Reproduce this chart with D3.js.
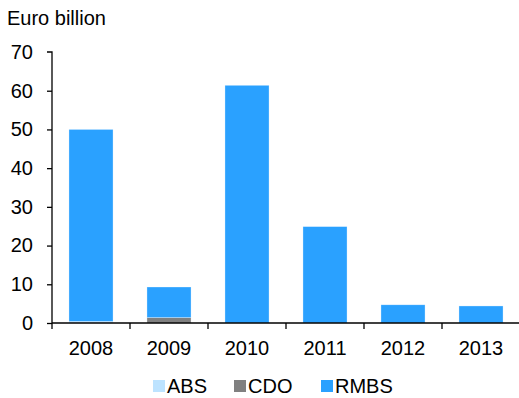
<!DOCTYPE html>
<html>
<head>
<meta charset="utf-8">
<script src="https://cdn.jsdelivr.net/npm/d3@7"></script>
<style>
  html, body { margin: 0; padding: 0; background: #fff; }
  svg { display: block; font-family: "Liberation Sans", Arial, sans-serif; }
</style>
</head>
<body>
<svg id="chart" width="519" height="398"></svg>
<script>
// Issuance by asset class, euro billion
const years = ["2008", "2009", "2010", "2011", "2012", "2013"];
const abs  = [0.4, 0.0, 0.0, 0.0, 0.0, 0.0];
const cdo  = [0.0, 1.4, 0.0, 0.0, 0.0, 0.0];
const rmbs = [49.6, 7.9, 61.4, 24.9, 4.7, 4.4];
const seriesNames = ["ABS", "CDO", "RMBS"];
const seriesColors = ["#bde3ff", "#808080", "#2aa1ff"];
const yTicks = [0, 10, 20, 30, 40, 50, 60, 70];

const svg = d3.select("#chart");
const margin = { left: 52, top: 52 };
const FS = 20;

const x = d3.scaleBand().domain(years).range([margin.left, 520]).paddingInner(0.435).paddingOuter(0.2175);
const xTickScale = d3.scaleBand().domain(years).range([margin.left, 520]);
const y = d3.scaleLinear().domain([0, 70]).range([323, margin.top]);

const rows = years.map((yr, i) => ({ year: yr, ABS: abs[i], CDO: cdo[i], RMBS: rmbs[i] }));
const stacked = d3.stack().keys(seriesNames)(rows);

// bars
svg.append("g").selectAll("g")
  .data(stacked)
  .join("g")
  .attr("fill", (d, i) => seriesColors[i])
  .selectAll("rect")
  .data(d => d.filter(p => p[1] - p[0] > 0))
  .join("rect")
  .attr("x", d => x(d.data.year))
  .attr("width", x.bandwidth())
  .attr("y", d => y(d[1]))
  .attr("height", d => y(d[0]) - y(d[1]))
  .attr("stroke", "#ffffff")
  .attr("stroke-opacity", 0.5)
  .attr("stroke-width", 0.6);

// y axis
const yAxis = d3.axisLeft(y).tickValues(yTicks).tickSize(5).tickPadding(14).tickFormat(d3.format("d"));
const gy = svg.append("g").attr("transform", `translate(${margin.left},0)`).call(yAxis);
gy.select(".domain").attr("d", `M-5,${y(70)}H0V${y(0)}`).attr("stroke", "#000").attr("stroke-width", 1.3);
gy.selectAll(".tick line").attr("stroke", "#000").attr("stroke-width", 1.3);
gy.selectAll(".tick text").attr("font-size", FS).attr("fill", "#000")
  .attr("font-family", "Liberation Sans, Arial, sans-serif");
gy.selectAll(".tick").filter(d => d === 70).select("line").remove();

// x axis
const xAxis = d3.axisBottom(xTickScale).tickSize(0).tickPadding(18);
const gx = svg.append("g").attr("transform", `translate(0,${y(0)})`).call(xAxis);
gx.select(".domain").attr("d", `M${margin.left},0H519`).attr("stroke", "#000").attr("stroke-width", 1.3);
gx.selectAll(".tick text").attr("font-size", FS).attr("fill", "#000")
  .attr("font-family", "Liberation Sans, Arial, sans-serif");
// category boundary ticks
gx.selectAll(".sep")
  .data(years)
  .join("line")
  .attr("class", "sep")
  .attr("x1", d => xTickScale(d)).attr("x2", d => xTickScale(d))
  .attr("y1", 0).attr("y2", 6)
  .attr("stroke", "#000").attr("stroke-width", 1.3);

// unit label
svg.append("text")
  .attr("x", 7).attr("y", 25)
  .attr("font-size", FS).attr("fill", "#000")
  .text("Euro billion");

// legend
const legendX = [153, 234, 321];
const lg = svg.append("g").selectAll("g")
  .data(seriesNames)
  .join("g")
  .attr("transform", (d, i) => `translate(${legendX[i]},380)`);
lg.append("rect").attr("width", 12).attr("height", 12).attr("fill", (d, i) => seriesColors[i]);
lg.append("text").attr("x", 14).attr("y", 13).attr("font-size", FS).attr("fill", "#000").text(d => d);
</script>
</body>
</html>
